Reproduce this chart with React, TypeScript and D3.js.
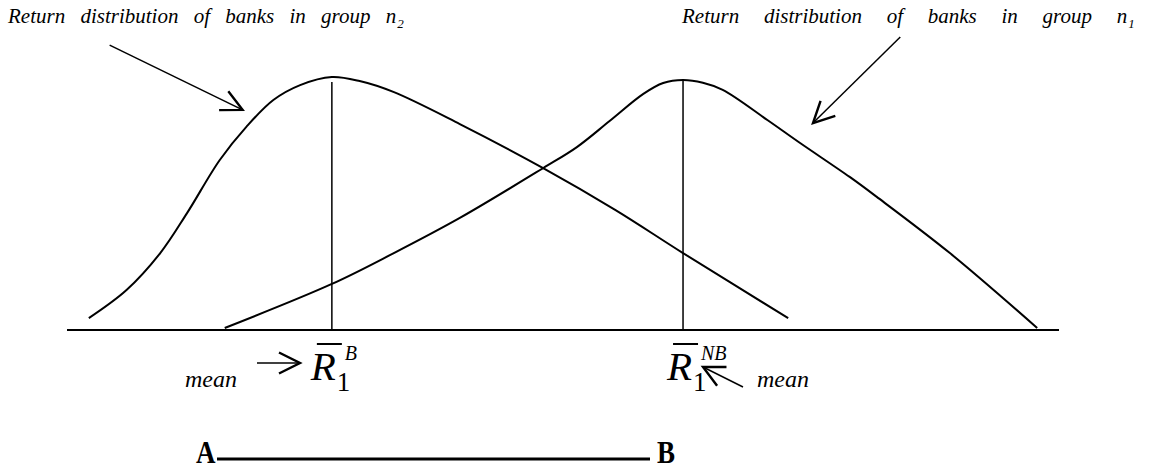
import React, { useEffect, useRef } from "react";
import * as d3 from "d3";

// returns (0-100 scale) and relative density
const returnsN2 = [2.2, 6.0, 9.4, 12.1, 15.4, 18.1, 20.8, 23.5, 26.7, 29.5, 32.9, 39.6, 48.0, 55.3, 62.1, 72.7];
const densityN2 = [0.047, 0.158, 0.304, 0.462, 0.672, 0.804, 0.909, 0.968, 1.0, 0.984, 0.941, 0.814, 0.64, 0.474, 0.304, 0.047];

const returnsN1 = [15.9, 26.7, 32.9, 39.6, 48.0, 51.4, 54.7, 58.1, 60.1, 62.1, 64.1, 66.1, 70.6, 73.9, 78.9, 81.6, 89.0, 97.8];
const densityN1 = [0.008, 0.182, 0.303, 0.443, 0.64, 0.723, 0.826, 0.933, 0.976, 0.988, 0.977, 0.949, 0.83, 0.739, 0.605, 0.527, 0.304, 0.008];

const meanNames = ["B", "NB"];
const meanReturns = [26.7, 62.1];
const meanPeaks = [0.98, 0.988];

const groupLabels = ["Return distribution of banks in group n", "Return distribution of banks in group n"];
const groupSubs = ["2", "1"];

const FONT = "Liberation Serif";

const App = () => {
  const ref = useRef(null);

  useEffect(() => {
    const svg = d3.select(ref.current);
    svg.selectAll("*").remove();

    const width = 1158;
    const height = 473;
    svg.attr("width", width).attr("height", height).attr("viewBox", `0 0 ${width} ${height}`);

    const x = d3.scaleLinear().domain([0, 100]).range([67, 1059]);
    const y = d3.scaleLinear().domain([0, 1]).range([330, 77]);

    const italic = (px, py, size) =>
      svg.append("text")
        .attr("x", px).attr("y", py)
        .attr("font-family", FONT).attr("font-style", "italic")
        .attr("font-size", size).attr("fill", "#000");

    // open arrow head
    svg.append("defs").append("marker")
      .attr("id", "open-head")
      .attr("markerUnits", "userSpaceOnUse")
      .attr("markerWidth", 30).attr("markerHeight", 30)
      .attr("viewBox", "-16 -10 20 20")
      .attr("refX", 0).attr("refY", 0)
      .attr("orient", "auto")
      .append("path")
      .attr("d", "M-14,-7 L0,0 L-14,7")
      .attr("fill", "none").attr("stroke", "#000").attr("stroke-width", 1.6);

    const line = d3.line<[number, number]>()
      .x((d) => x(d[0]))
      .y((d) => y(d[1]))
      .curve(d3.curveCatmullRom.alpha(0.5));

    // baseline
    svg.append("line")
      .attr("x1", x(0)).attr("x2", x(100))
      .attr("y1", y(0)).attr("y2", y(0))
      .attr("stroke", "#000").attr("stroke-width", 2.2);

    const curves = [
      d3.zip(returnsN2, densityN2),
      d3.zip(returnsN1, densityN1),
    ];
    svg.selectAll("path.curve").data(curves).enter().append("path")
      .attr("class", "curve")
      .attr("d", (d) => line(d as [number, number][]))
      .attr("fill", "none").attr("stroke", "#000").attr("stroke-width", 2);

    // mean lines
    svg.selectAll("line.mean").data(meanReturns).enter().append("line")
      .attr("class", "mean")
      .attr("x1", (d) => x(d)).attr("x2", (d) => x(d))
      .attr("y1", y(0)).attr("y2", (d, i) => y(meanPeaks[i]))
      .attr("stroke", "#000").attr("stroke-width", 1.5);

    // group labels
    const labelX = [8, 682];
    const wordGap = [10, 19.5];
    groupLabels.forEach((lab, i) => {
      const t = italic(labelX[i], 23, 21).attr("word-spacing", wordGap[i]);
      t.append("tspan").text(lab);
      t.append("tspan").attr("dy", 5).attr("dx", 1).attr("font-size", 13).attr("word-spacing", 0).text(groupSubs[i]);
    });

    // pointer arrows to the curves
    const pointers = [
      [[4.3, 1.126], [17.7, 0.87]],
      [[84.0, 1.158], [75.2, 0.818]],
    ];
    pointers.forEach((p) => {
      svg.append("line")
        .attr("x1", x(p[0][0])).attr("y1", y(p[0][1]))
        .attr("x2", x(p[1][0])).attr("y2", y(p[1][1]))
        .attr("stroke", "#000").attr("stroke-width", 1.5)
        .attr("marker-end", "url(#open-head)");
    });

    // R-bar labels under the means
    const rOffset = [-20, -15];
    meanReturns.forEach((m, i) => {
      const rx = x(m) + rOffset[i];
      italic(rx - 1, 380, 41).text("R");
      svg.append("line")
        .attr("x1", rx + 5).attr("x2", rx + 30)
        .attr("y1", 344).attr("y2", 344)
        .attr("stroke", "#000").attr("stroke-width", 2);
      svg.append("text")
        .attr("x", rx + 25).attr("y", 391)
        .attr("font-family", FONT).attr("font-size", 27)
        .text("1");
      italic(rx + 33, 360, 20).text(meanNames[i]);
    });

    // "mean" captions with arrows
    const meanText = [
      { tx: 185, arrow: [[257, 363], [300, 363]] },
      { tx: 757, arrow: [[743, 387], [703, 367]] },
    ];
    meanText.forEach((m) => {
      italic(m.tx, 387, 24).text("mean");
      svg.append("line")
        .attr("x1", m.arrow[0][0]).attr("y1", m.arrow[0][1])
        .attr("x2", m.arrow[1][0]).attr("y2", m.arrow[1][1])
        .attr("stroke", "#000").attr("stroke-width", 1.5)
        .attr("marker-end", "url(#open-head)");
    });

    // A ---- B
    const endLabels = [["A", 196], ["B", 657]];
    endLabels.forEach(([s, lx]) => {
      svg.append("g").attr("transform", `translate(${lx},463) scale(1,1.2)`)
        .append("text")
        .attr("font-family", FONT).attr("font-weight", "bold").attr("font-size", 27)
        .text(s);
    });
    svg.append("line")
      .attr("x1", 217).attr("x2", 650)
      .attr("y1", 459).attr("y2", 459)
      .attr("stroke", "#000").attr("stroke-width", 3);
  }, []);

  return <svg ref={ref} style={{ position: "absolute", left: 0, top: 0, background: "#fff" }}></svg>;
};

export default App;
